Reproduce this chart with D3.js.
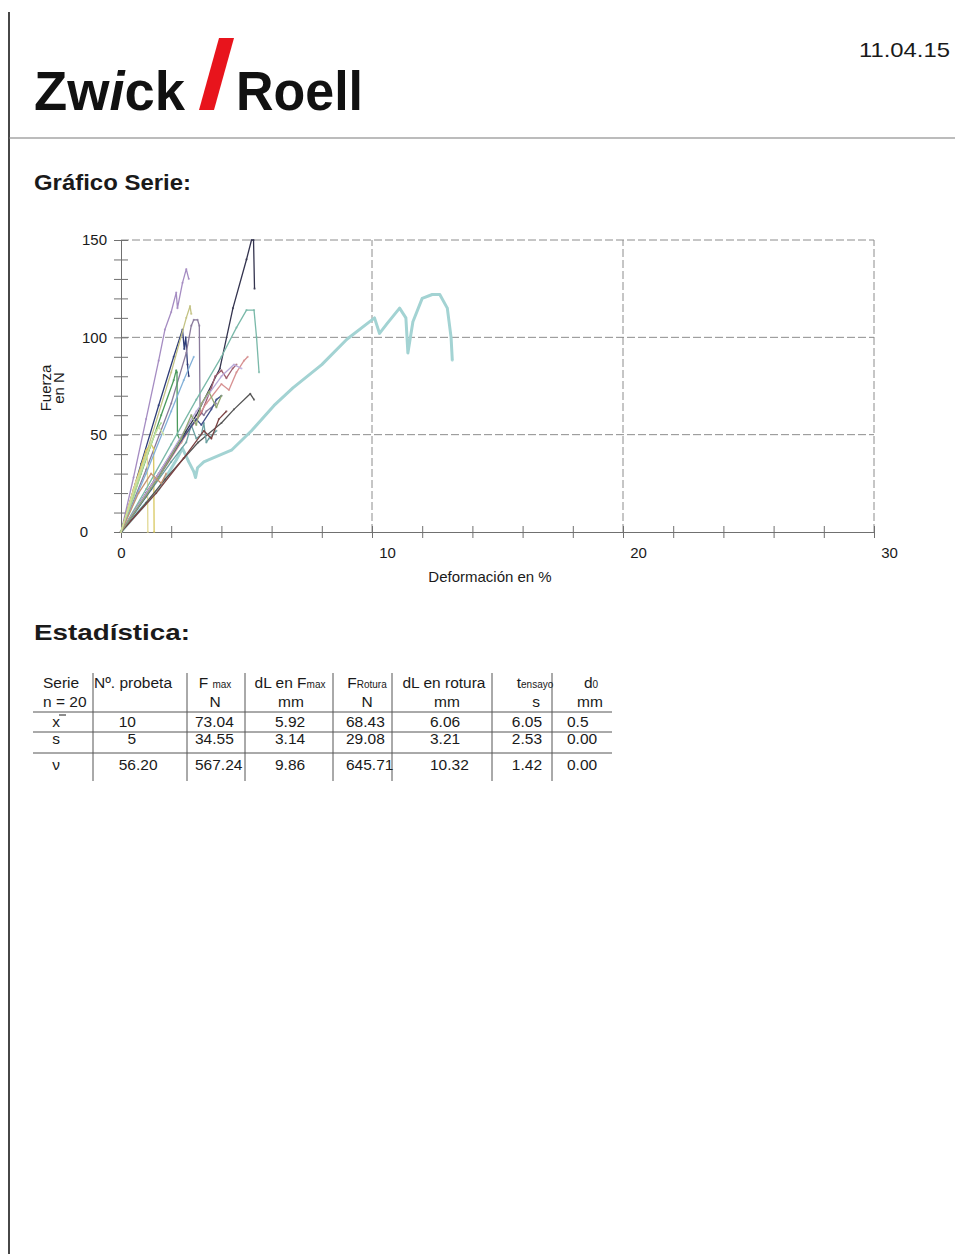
<!DOCTYPE html>
<html lang="es">
<head>
<meta charset="UTF-8" />
<title>Gráfico Serie</title>
<script src="https://d3js.org/d3.v7.min.js"></script>
<style>
  body { margin: 0; background: #fff; font-family: "Liberation Sans", Arial, sans-serif; }
  svg { display: block; }
</style>
</head>
<body>
<svg id="page" width="955" height="1254"></svg>
<script>
// axis settings
const xTicks = d3.range(0, 31, 2);
const yTicks = d3.range(0, 151, 10);
const xGrid = [10, 20, 30];
const yGrid = [50, 100, 150];

// specimen curves: [deformación %, fuerza N]
const specimenColors = [
  "#a3d3d3", "#a58cc2", "#2f3d78", "#c3c283", "#8a7b9c", "#4b9a5c",
  "#d8c860", "#e2d994", "#34344f", "#7ab9a9", "#545454", "#a06070",
  "#d79192", "#6ba1a1", "#a9d892", "#82b0d8", "#b9a9d8", "#7a4242",
  "#425089", "#92a972", "#c39272", "#c8e0a0"
];
const specimenCurves = [
  [[0,0],[0.8,12],[1.5,22],[2.2,37],[2.45,43],[2.7,36],[2.9,31],[2.97,28],[3.05,33],[3.3,36],[4.4,42],[5.2,52],[6.1,65],[6.85,74],[8,86],[9,99],[10,109],[10.1,110],[10.3,102],[10.6,107],[11.1,115],[11.35,110],[11.43,92],[11.63,108],[12.0,120],[12.4,122],[12.7,122],[13.0,115],[13.15,100],[13.2,88]],
  [[0,0],[0.5,28],[1,58],[1.5,88],[1.75,104],[2.0,113],[2.2,123],[2.25,115],[2.45,128],[2.6,135],[2.7,130]],
  [[0,0],[0.8,35],[1.5,65],[2.1,90],[2.45,104],[2.52,94],[2.58,100],[2.65,86],[2.7,80]],
  [[0,0],[1,40],[2,82],[2.6,110],[2.75,116],[2.8,112]],
  [[0,0],[1,32],[2,66],[2.6,92],[2.8,106],[2.9,109],[3.05,109],[3.12,106],[3.15,62],[3.3,60],[3.4,62],[3.8,66]],
  [[0,0],[0.8,30],[1.6,60],[2.1,78],[2.2,83],[2.23,82],[2.25,50],[2.4,46],[2.6,52]],
  [[0,0],[0.5,22],[1,42],[1.2,45],[1.3,43],[1.32,0]],
  [[0,0],[0.6,26],[1.05,40],[1.07,0]],
  [[0,0],[1,20],[2,40],[3,60],[3.94,84],[4.46,115],[5.0,140],[5.2,150],[5.28,150],[5.32,125]],
  [[0,0],[1,22],[2,45],[3,68],[4,90],[4.6,105],[5.0,114],[5.3,114],[5.4,100],[5.5,82]],
  [[0,0],[1,15],[1.75,27],[3.07,46],[4,56],[4.5,63],[5.15,71],[5.3,68]],
  [[0,0],[1,20],[2,40],[3.2,61],[3.6,74],[3.75,80],[4.0,83],[4.2,79],[4.45,84],[4.6,86]],
  [[0,0],[1.2,22],[2.4,46],[3.4,66],[4,76],[4.3,73],[4.6,82],[4.9,88],[5.05,90]],
  [[0,0],[1,18],[2,36],[2.6,46],[2.8,55],[3.0,48],[3.2,50],[3.3,56],[3.4,46],[3.5,48],[3.8,52]],
  [[0,0],[0.5,18],[1,38],[1.4,52],[1.6,56]],
  [[0,0],[1,30],[2,62],[2.5,78],[2.9,90]],
  [[0,0],[1.5,30],[3,62],[4,80],[4.5,86],[4.8,84]],
  [[0,0],[1.4,20],[2.5,38],[3.3,52],[3.6,48],[3.9,58],[4.2,62]],
  [[0,0],[1.2,22],[2.4,47],[3.0,58],[3.2,55],[3.6,63],[3.8,68],[4.0,70]],
  [[0,0],[1.5,28],[2.4,48],[2.8,60],[3.0,55],[3.2,66],[3.5,72],[3.8,64],[4.0,70]],
  [[0,0],[0.7,20],[1.2,30],[1.6,25],[1.8,30]],
  [[0,0],[0.6,24],[1.2,46],[1.5,54],[1.7,50]]
];

// Estadística table
const statLabels = ["x", "s", "\u03bd"];
const colProbeta = ["10", "5", "56.20"];
const colFmax = ["73.04", "34.55", "567.24"];
const colDLFmax = ["5.92", "3.14", "9.86"];
const colFRotura = ["68.43", "29.08", "645.71"];
const colDLRotura = ["6.06", "3.21", "10.32"];
const colTensayo = ["6.05", "2.53", "1.42"];
const colD0 = ["0.5", "0.00", "0.00"];

const svg = d3.select("#page");
const ink = "#1a1a1a";

// page frame
svg.append("line").attr("x1", 9).attr("x2", 9).attr("y1", 12).attr("y2", 1254)
  .attr("stroke", "#333").attr("stroke-width", 1.8);
svg.append("line").attr("x1", 9).attr("x2", 955).attr("y1", 138).attr("y2", 138)
  .attr("stroke", "#7a7a7a").attr("stroke-width", 1.2);

// logo
const logo = svg.append("g").attr("font-weight", "bold").attr("fill", "#111")
  .attr("font-family", "'Liberation Sans', Arial, sans-serif");
const zw = logo.append("text").attr("x", 34).attr("y", 110).attr("font-size", 56)
  .attr("textLength", 151).attr("lengthAdjust", "spacingAndGlyphs");
zw.append("tspan").text("Zw");
zw.append("tspan").attr("font-style", "italic").text("i");
zw.append("tspan").text("ck");
logo.append("path").attr("d", "M199,110 L214,110 L234,38 L219,38 Z").attr("fill", "#e8141c");
logo.append("text").attr("x", 236).attr("y", 110).attr("font-size", 56)
  .attr("textLength", 127).attr("lengthAdjust", "spacingAndGlyphs").text("Roell");

svg.append("text").attr("x", 859).attr("y", 57).attr("font-size", 21).attr("fill", ink)
  .attr("textLength", 91).attr("lengthAdjust", "spacingAndGlyphs").text("11.04.15");

// section titles
svg.append("text").attr("x", 34).attr("y", 190).attr("font-size", 22).attr("font-weight", "bold")
  .attr("fill", ink).attr("textLength", 157).attr("lengthAdjust", "spacingAndGlyphs").text("Gráfico Serie:");
svg.append("text").attr("x", 34).attr("y", 640).attr("font-size", 22).attr("font-weight", "bold")
  .attr("fill", ink).attr("textLength", 156).attr("lengthAdjust", "spacingAndGlyphs").text("Estadística:");

// chart
const x = d3.scaleLinear().domain([0, 30]).range([121, 874]);
const y = d3.scaleLinear().domain([0, 150]).range([532, 240]);

const chart = svg.append("g");

// dashed grid
chart.selectAll(".hgrid").data(yGrid).join("line")
  .attr("x1", x(0)).attr("x2", x(30)).attr("y1", d => y(d)).attr("y2", d => y(d))
  .attr("stroke", "#8c8c8c").attr("stroke-dasharray", "8,3");
chart.selectAll(".vgrid").data(xGrid).join("line")
  .attr("x1", d => x(d)).attr("x2", d => x(d)).attr("y1", y(0)).attr("y2", y(150))
  .attr("stroke", "#8c8c8c").attr("stroke-dasharray", "8,3");

// axes
const xAxis = chart.append("g").attr("transform", `translate(0,${y(0)})`)
  .call(d3.axisBottom(x).tickValues(xTicks).tickSizeInner(6).tickSizeOuter(0)
    .tickPadding(9).tickFormat(d => d % 10 === 0 ? d : ""));
xAxis.selectAll(".tick line").attr("y1", -6).attr("y2", 6);
xAxis.selectAll(".tick text").attr("dx", d => d === 0 ? 0 : 15);

const yAxis = chart.append("g").attr("transform", `translate(${x(0)},0)`)
  .call(d3.axisLeft(y).tickValues(yTicks).tickSizeInner(7).tickSizeOuter(0)
    .tickPadding(7).tickFormat(d => d % 50 === 0 ? d : ""));
yAxis.selectAll(".tick line").attr("x1", -7).attr("x2", 7);
yAxis.selectAll(".tick text").attr("dx", d => d === 0 ? -19 : 0);

[xAxis, yAxis].forEach(a => {
  a.select(".domain").attr("stroke", "#707070");
  a.selectAll(".tick line").attr("stroke", "#707070");
  a.selectAll(".tick text").attr("font-size", 15).attr("fill", ink)
    .attr("font-family", "'Liberation Sans', Arial, sans-serif");
});

chart.append("text").attr("x", 490).attr("y", 582).attr("text-anchor", "middle")
  .attr("font-size", 15).attr("fill", ink).text("Deformación en %");
chart.append("text").attr("transform", "translate(51,388) rotate(-90)").attr("text-anchor", "middle")
  .attr("font-size", 15).attr("fill", ink).text("Fuerza");
chart.append("text").attr("transform", "translate(64,388) rotate(-90)").attr("text-anchor", "middle")
  .attr("font-size", 15).attr("fill", ink).text("en N");

// specimen curves
const line = d3.line().x(d => x(d[0])).y(d => y(d[1]));
specimenCurves.forEach((pts, i) => {
  chart.append("path").datum(pts).attr("d", line).attr("fill", "none")
    .attr("stroke", specimenColors[i]).attr("stroke-width", i === 0 ? 3 : 1.3)
    .attr("stroke-linejoin", "round");
  chart.selectAll(null).data(pts).join("circle")
    .attr("cx", d => x(d[0])).attr("cy", d => y(d[1])).attr("r", 1.1)
    .attr("fill", specimenColors[i]).attr("opacity", 0.7);
});

// statistics table
const tbl = svg.append("g").attr("font-size", 15.5).attr("fill", ink);
const rowY = [727, 744, 770];

[712, 732, 753].forEach(ly => {
  tbl.append("line").attr("x1", 33).attr("x2", 612).attr("y1", ly).attr("y2", ly)
    .attr("stroke", "#555").attr("stroke-width", 1);
});
[93, 187, 245, 333, 392, 492, 552].forEach(lx => {
  tbl.append("line").attr("x1", lx).attr("x2", lx).attr("y1", 673).attr("y2", 781)
    .attr("stroke", "#555").attr("stroke-width", 1);
});

function header(xc, anchor, parts, yy) {
  const t = tbl.append("text").attr("x", xc).attr("y", yy).attr("text-anchor", anchor);
  parts.forEach(p => t.append("tspan").attr("font-size", p[1] ? 10 : null).text(p[0]));
}
header(43, "start", [["Serie"]], 688);
header(94, "start", [["Nº. probeta"]], 688);
header(215, "middle", [["F "], ["max", 1]], 688);
header(290, "middle", [["dL en F"], ["max", 1]], 688);
header(367, "middle", [["F"], ["Rotura", 1]], 688);
header(444, "middle", [["dL en rotura"]], 688);
header(535, "middle", [["t"], ["ensayo", 1]], 688);
header(591, "middle", [["d"], ["0", 1]], 688);
header(43, "start", [["n = 20"]], 707);
header(215, "middle", [["N"]], 707);
header(291, "middle", [["mm"]], 707);
header(367, "middle", [["N"]], 707);
header(447, "middle", [["mm"]], 707);
header(536, "middle", [["s"]], 707);
header(590, "middle", [["mm"]], 707);

statLabels.forEach((s, i) => {
  tbl.append("text").attr("x", 56).attr("y", rowY[i]).attr("text-anchor", "middle").text(s);
});
tbl.append("line").attr("x1", 59).attr("x2", 66).attr("y1", 715).attr("y2", 715)
  .attr("stroke", ink).attr("stroke-width", 1);

// Nº probeta: aligned on the decimal point
colProbeta.forEach((v, i) => {
  const [ip, fp] = v.split(".");
  tbl.append("text").attr("x", 136).attr("y", rowY[i]).attr("text-anchor", "end").text(ip);
  if (fp) tbl.append("text").attr("x", 136).attr("y", rowY[i]).text("." + fp);
});

function column(vals, xc, anchor) {
  vals.forEach((v, i) => {
    tbl.append("text").attr("x", xc).attr("y", rowY[i]).attr("text-anchor", anchor).text(v);
  });
}
column(colFmax, 195, "start");
column(colDLFmax, 275, "start");
column(colFRotura, 346, "start");
column(colDLRotura, 430, "start");
column(colTensayo, 542, "end");
column(colD0, 567, "start");
</script>
</body>
</html>
